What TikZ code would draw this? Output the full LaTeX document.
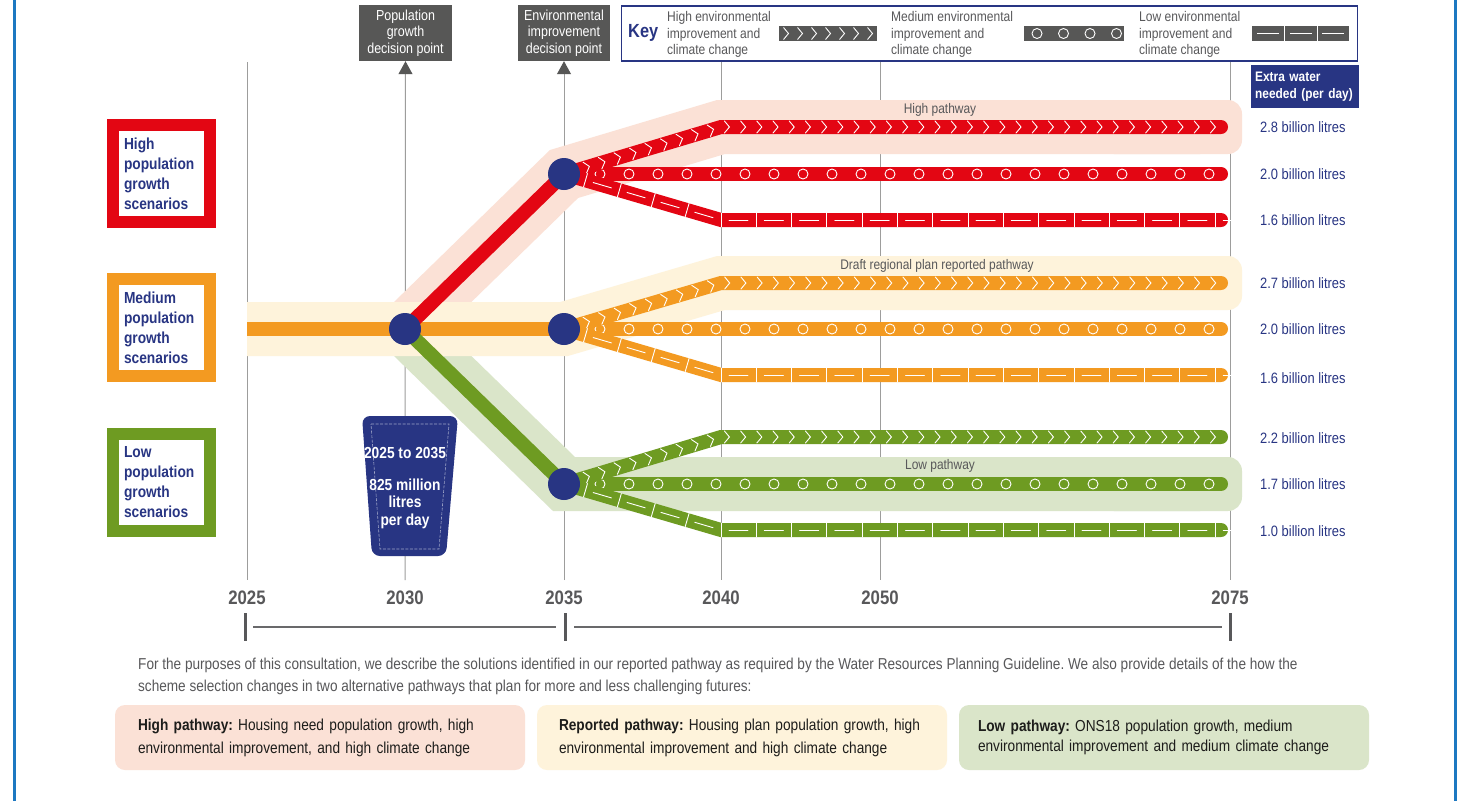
\documentclass[tikz,border=0pt]{standalone}
\usepackage{fontspec}
\setmainfont{Liberation Sans}[FakeStretch=0.86]
\usetikzlibrary{decorations.markings,arrows.meta}
\definecolor{navy}{HTML}{283583}
\definecolor{lred}{HTML}{E30613}
\definecolor{lorange}{HTML}{F39A21}
\definecolor{lgreen}{HTML}{6E9B22}
\definecolor{pinkband}{HTML}{FBE1D6}
\definecolor{creamband}{HTML}{FEF3DB}
\definecolor{greenband}{HTML}{DAE5C9}
\definecolor{darkbox}{HTML}{575756}
\definecolor{gridgray}{HTML}{9D9D9C}
\definecolor{txtgray}{HTML}{58585A}
\definecolor{frameblue}{HTML}{1D78C1}
\definecolor{inkblack}{HTML}{1D1D1B}
\newcommand\myfs[2]{\fontsize{#1pt}{#2pt}\selectfont}
\frenchspacing
\begin{document}
\begin{tikzpicture}[x=1pt,y=-1pt,
  gridline/.style={draw=gridgray, line width=1pt},
  band/.style={line width=54pt},
  trunk/.style={line width=14pt},
  branch/.style={line width=14pt, line cap=round},
  hub/.style={circle, fill=navy, minimum size=32pt, inner sep=0pt},
  decbox/.style={fill=darkbox, text=white, minimum height=56pt, inner sep=0pt, align=center, font=\myfs{14.5}{16.5}},
  keytxt/.style={text=txtgray, align=left, anchor=west, inner sep=0pt, font=\myfs{14}{16.5}},
  scen/.style={draw=#1, line width=12pt, fill=white, minimum width=97pt, minimum height=97pt, inner sep=0pt, text width=75pt, align=left, text=navy, font=\myfs{16}{20}\bfseries},
  yr/.style={text=txtgray, font=\myfs{19.5}{20}\bfseries, inner sep=0pt},
  val/.style={text=navy, font=\myfs{15}{16}, anchor=west, inner sep=0pt},
  plabel/.style={text=txtgray, font=\myfs{13.9}{15}, inner sep=0pt},
  tick/.style={draw=txtgray, line width=3pt},
  tline/.style={draw=txtgray!90, line width=1.5pt},
  pathbox/.style={rounded corners=10pt, minimum height=65pt, align=left, text=inkblack, font=\myfs{15.9}{23}, inner ysep=0pt},
  chev/.style={decoration={markings, mark=between positions 24pt and -6pt step 16.2pt with {\draw[white, line width=0.9pt] (-2.5pt,6pt) -- (2.5pt,0pt) -- (-2.5pt,-6pt);}}, postaction={decorate}},
  circ/.style={decoration={markings, mark=between positions 36pt and -8pt step 29pt with {\draw[white, line width=0.9pt] (0pt,0pt) circle (5pt);}}, postaction={decorate}},
  dsh/.style={decoration={markings, mark=between positions 22.4pt and -4pt step 35.3pt with {\draw[white, line width=0.9pt] (0pt,-7pt) -- (0pt,7pt); \draw[white, line width=0.9pt] (8pt,0pt) -- (27pt,0pt);}}, postaction={decorate}}
]
\useasboundingbox (0,0) rectangle (1463,801);
\fill[white] (0,0) rectangle (1463,801);
% frame
\draw[frameblue, line width=3pt] (14,0) -- (14,801);
\draw[frameblue, line width=3pt] (1455,0) -- (1455,801);

% top boxes
\node[decbox, minimum width=93pt] (pgdp) at (405.5,33) {Population\\growth\\decision point};
\node[decbox, minimum width=92pt] (eidp) at (564,33) {Environmental\\improvement\\decision point};
\node[draw=navy, line width=1.5pt, minimum width=736pt, minimum height=55pt, inner sep=0pt] (key) at (989.5,33.5) {};
\node[text=navy, font=\myfs{19}{20}\bfseries, inner sep=0pt, anchor=west] (keyt) at (628,32.5) {Key};
\node[keytxt] (k1t) at (667,34.5) {High environmental\\improvement and\\climate change};
\node[keytxt] (k2t) at (891,34.5) {Medium environmental\\improvement and\\climate change};
\node[keytxt] (k3t) at (1139,34.5) {Low environmental\\improvement and\\climate change};
\node[fill=darkbox, minimum width=98pt, minimum height=15pt, inner sep=0pt] (k1s) at (828,33.5) {};
\foreach \i in {0,...,6} \draw[white, line width=0.9pt] ({786+\i*14-2.5},27.5) -- ({786+\i*14+2.5},33.5) -- ({786+\i*14-2.5},39.5);
\node[fill=darkbox, minimum width=100pt, minimum height=15pt, inner sep=0pt] (k2s) at (1074,33.5) {};
\foreach \i in {0,...,3} \draw[white, line width=0.9pt] ({1037+\i*26.5},33.5) circle (5pt);
\node[fill=darkbox, minimum width=97pt, minimum height=15pt, inner sep=0pt] (k3s) at (1300.5,33.5) {};
\draw[white, line width=1pt] (1284.5,26) -- (1284.5,41) (1317,26) -- (1317,41);
\draw[white, line width=1pt] (1257,33.5) -- (1279,33.5) (1290,33.5) -- (1312,33.5) (1322,33.5) -- (1344,33.5);
\node[fill=navy, text=white, font=\myfs{13.8}{17}\bfseries, align=left, minimum height=43pt, inner xsep=4pt, inner ysep=0pt, anchor=north west, text width=100pt] (xw) at (1251,65) {Extra water\\needed (per day)};

% grid lines
\coordinate (g25t) at (247,62); \coordinate (g25b) at (247,580);
\coordinate (g30b) at (405,580); \coordinate (g35b) at (564,580);
\coordinate (g40t) at (721,62); \coordinate (g40b) at (721,580);
\coordinate (g50t) at (880,62); \coordinate (g50b) at (880,580);
\coordinate (g75t) at (1230,62); \coordinate (g75b) at (1230,580);
\draw[gridline] (g25t) -- (g25b);
\draw[gridline] (g40t) -- (g40b);
\draw[gridline] (g50t) -- (g50b);
\draw[gridline] (g75t) -- (g75b);
\draw[gridline, -{Triangle[width=14pt,length=13pt,color=darkbox]}] (g30b) -- (pgdp.south);
\draw[gridline, -{Triangle[width=14pt,length=13pt,color=darkbox]}] (g35b) -- (eidp.south);

% hubs (positions)
\node[hub] (n30) at (405,329) {};
\node[hub] (n35h) at (564,174) {};
\node[hub] (n35m) at (564,329) {};
\node[hub] (n35l) at (564,484) {};
\coordinate (t25) at (247,329);
\coordinate (rh40) at (721,127); \coordinate (rhE) at (1221,127);
\coordinate (rmE) at (1221,174);
\coordinate (rl40) at (721,220); \coordinate (rlE) at (1221,220);
\coordinate (oh40) at (721,283); \coordinate (ohE) at (1221,283);
\coordinate (omE) at (1221,329);
\coordinate (ol40) at (721,375); \coordinate (olE) at (1221,375);
\coordinate (gh40) at (721,437); \coordinate (ghE) at (1221,437);
\coordinate (gmE) at (1221,484);
\coordinate (gl40) at (721,530); \coordinate (glE) at (1221,530);

% bands
\draw[band, pinkband] (n30.center) -- (n35h.center) -- (rh40) -- (1200,127);
\fill[pinkband, rounded corners=14pt] (1100,100) rectangle (1242,154);
\draw[band, greenband] (n30.center) -- (n35l.center) -- (1200,484);
\fill[greenband, rounded corners=14pt] (1100,457) rectangle (1242,511);
\draw[band, creamband] (t25) -- (n35m.center) -- (oh40) -- (1200,283);
\fill[creamband, rounded corners=14pt] (1100,256) rectangle (1242,310);
\node[plabel] (lhp) at (940,110) {High pathway};
\node[plabel] (ldp) at (937,266) {Draft regional plan reported pathway};
\node[plabel] (llp) at (940,466) {Low pathway};

% trunk lines
\draw[trunk, lorange] (t25) -- (n30.center) -- (n35m.center);
\draw[trunk, lred] (n30.center) -- (n35h.center);
\draw[trunk, lgreen] (n30.center) -- (n35l.center);

% branches
\draw[branch, lred, circ] (n35h.center) -- (rmE);
\draw[branch, lred, chev] (n35h.center) -- (rh40) -- (rhE);
\draw[branch, lred, dsh] (n35h.center) -- (rl40) -- (rlE);
\draw[branch, lorange, circ] (n35m.center) -- (omE);
\draw[branch, lorange, chev] (n35m.center) -- (oh40) -- (ohE);
\draw[branch, lorange, dsh] (n35m.center) -- (ol40) -- (olE);
\draw[branch, lgreen, circ] (n35l.center) -- (gmE);
\draw[branch, lgreen, chev] (n35l.center) -- (gh40) -- (ghE);
\draw[branch, lgreen, dsh] (n35l.center) -- (gl40) -- (glE);

% hubs on top
\node[hub] at (n30) {};
\node[hub] at (n35h) {};
\node[hub] at (n35m) {};
\node[hub] at (n35l) {};

% values
\node[val] (v1) at (1260,127) {2.8 billion litres};
\node[val] (v2) at (1260,174) {2.0 billion litres};
\node[val] (v3) at (1260,220) {1.6 billion litres};
\node[val] (v4) at (1260,283) {2.7 billion litres};
\node[val] (v5) at (1260,329) {2.0 billion litres};
\node[val] (v6) at (1260,378) {1.6 billion litres};
\node[val] (v7) at (1260,438) {2.2 billion litres};
\node[val] (v8) at (1260,484) {1.7 billion litres};
\node[val] (v9) at (1260,531) {1.0 billion litres};

% scenario boxes
\node[scen=lred] (sh) at (161.5,173.5) {High\\population\\growth\\scenarios};
\node[scen=lorange] (sm) at (161.5,327.5) {Medium\\population\\growth\\scenarios};
\node[scen=lgreen] (sl) at (161.5,482) {Low\\population\\growth\\scenarios};

% bucket
\fill[navy, rounded corners=8pt] (362,416) -- (458,416) -- (446,556) -- (372,556) -- cycle;
\draw[draw=navy!45!white, line width=0.6pt, dashed, dash pattern=on 3pt off 1.5pt] (371,424) -- (449,424) -- (439,549) -- (380,549) -- cycle;
\node[text=white, font=\myfs{16}{17.5}\bfseries, inner sep=0pt] (b1) at (405,453) {2025 to 2035};
\node[text=white, font=\myfs{16}{17.5}\bfseries, inner sep=0pt, align=center] (b2) at (405,503.5) {825 million\\litres\\per day};

% years
\node[yr] (y25) at (247,598) {2025};
\node[yr] (y30) at (405,598) {2030};
\node[yr] (y35) at (564,598) {2035};
\node[yr] (y40) at (721,598) {2040};
\node[yr] (y50) at (880,598) {2050};
\node[yr] (y75) at (1230,598) {2075};

% timeline
\coordinate (ta1) at (245,613); \coordinate (tb1) at (245,641);
\coordinate (ta2) at (565,613); \coordinate (tb2) at (565,641);
\coordinate (ta3) at (1230,613); \coordinate (tb3) at (1230,641);
\draw[tick] (ta1) -- (tb1);
\draw[tick] (ta2) -- (tb2);
\draw[tick] (ta3) -- (tb3);
\coordinate (h1a) at (253,627); \coordinate (h1b) at (556,627);
\coordinate (h2a) at (574,627); \coordinate (h2b) at (1222,627);
\draw[tline] (h1a) -- (h1b);
\draw[tline] (h2a) -- (h2b);

% paragraph
\node[text=txtgray, font=\myfs{15.8}{22}, align=left, anchor=west, inner sep=0pt] (para) at (138,676) {For the purposes of this consultation, we describe the solutions identified in our reported pathway as required by the Water Resources Planning Guideline. We also provide details of the how the\\scheme selection changes in two alternative pathways that plan for more and less challenging futures:};

% pathway boxes
\node[pathbox, fill=pinkband, text width=364pt, inner xsep=23pt] (bhp) at (320,737.5) {\textbf{High pathway:} Housing need population growth, high\\environmental improvement, and high climate change};
\node[pathbox, fill=creamband, text width=366pt, inner xsep=22pt] (brp) at (742,737.5) {\textbf{Reported pathway:} Housing plan population growth, high\\environmental improvement and high climate change};
\node[pathbox, fill=greenband, text width=372pt, inner xsep=19pt, font=\myfs{15.9}{20}] (blp) at (1164,737.5) {\textbf{Low pathway:} ONS18 population growth, medium\\environmental improvement and medium climate change};
\end{tikzpicture}
\end{document}
